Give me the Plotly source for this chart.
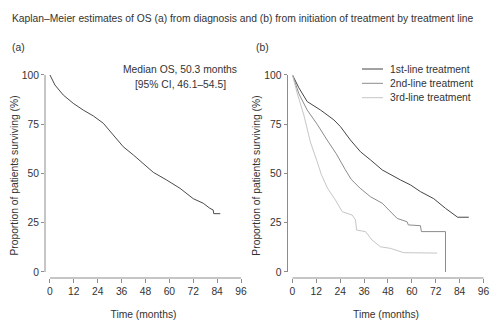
import plotly.graph_objects as go

# ---------------- data ----------------
# Panel (a): overall survival from diagnosis
a_time = [0, 2.5, 6.7, 11.7, 16.7, 21.8, 26.8, 31.8, 36.8, 41.9, 46.9, 51.9,
          58.6, 65.3, 72.0, 77.0, 80.4, 82.0, 82.3, 85.6]
a_surv = [100, 94.9, 89.8, 85.6, 82.2, 79.2, 75.5, 69.5, 63.6, 59.4, 55.0, 50.6,
          46.7, 42.5, 37.2, 34.9, 32.3, 31.5, 29.6, 29.6]

# Panel (b): survival from initiation of treatment by treatment line
l1_time = [0, 3.2, 7.4, 14.1, 20.8, 24.1, 29.1, 34.2, 39.2, 45.1, 54.3, 59.3,
           64.3, 71.0, 76.9, 80.2, 82.8, 83.0, 88.6]
l1_surv = [100, 93.5, 86.5, 82.2, 77.2, 73.8, 67.0, 61.0, 56.9, 51.8, 46.7, 44.2,
           40.8, 37.2, 32.3, 29.8, 28.1, 27.8, 27.8]

l2_time = [0, 3.2, 7.4, 12.4, 17.4, 22.0, 26.5, 29.5, 34.0, 39.2, 45.1, 49.2,
           52.6, 57.6, 58.2, 64.3, 64.8, 76.9, 76.9]
l2_surv = [100, 90.5, 82.2, 75.0, 67.0, 60.0, 52.0, 47.0, 42.5, 38.2, 34.9, 30.6,
           27.2, 25.5, 23.9, 23.5, 20.5, 20.5, 0]

l3_time = [0, 2.3, 5.7, 9.0, 12.4, 14.5, 17.6, 21.6, 25.0, 30.0, 31.7, 32.2,
           36.7, 40.0, 44.2, 49.2, 55.9, 72.7]
l3_surv = [100, 91.0, 79.7, 66.0, 56.0, 49.5, 42.5, 36.5, 30.6, 28.9, 26.4, 21.3,
           20.5, 16.2, 12.8, 12.0, 9.8, 9.6]

series_names = ["1st-line treatment", "2nd-line treatment", "3rd-line treatment"]
x_ticks = [0, 12, 24, 36, 48, 60, 72, 84, 96]
y_ticks = [0, 25, 50, 75, 100]

title_text = ("Kaplan\u2013Meier estimates of OS (a) from diagnosis and (b) "
              "from initiation of treatment by treatment line")
median_text_1 = "Median OS, 50.3 months"
median_text_2 = "[95% CI, 46.1\u201354.5]"

# ---------------- styling ----------------
FONT = "Liberation Sans, Arial, sans-serif"
TXT = "#333333"
AXC = "#8c8c8c"
colors = ["#454545", "#8c8c8c", "#c6c6c6"]
a_color = "#4a4a4a"
FS = 10.3

fig = go.Figure()

fig.add_trace(go.Scatter(x=a_time, y=a_surv, mode="lines",
                         line=dict(color=a_color, width=1),
                         xaxis="x", yaxis="y", showlegend=False,
                         name="Overall"))

for t, s, c, n in zip([l1_time, l2_time, l3_time],
                      [l1_surv, l2_surv, l3_surv], colors, series_names):
    fig.add_trace(go.Scatter(x=t, y=s, mode="lines", name=n,
                             line=dict(color=c, width=1),
                             xaxis="x2", yaxis="y2", showlegend=False))

y_dom = [1 - 278 / 334, 1 - 73 / 334]
x_range = [-2.5, 96.5]
y_range = [-3.05, 101]

axis_common = dict(showgrid=False, zeroline=False, showline=False,
                   ticks="outside", tickcolor=AXC, tickwidth=1,
                   tickfont=dict(family=FONT, size=FS, color=TXT),
                   automargin=False)

xtitle = dict(text="Time (months)", standoff=14,
              font=dict(family=FONT, size=FS, color=TXT))
ytitle = dict(text="Proportion of patients surviving (%)", standoff=1,
              font=dict(family=FONT, size=FS, color=TXT))

fig.update_layout(
    width=500, height=334, autosize=False,
    margin=dict(l=0, r=0, t=0, b=0),
    paper_bgcolor="white", plot_bgcolor="white",
    font=dict(family=FONT, size=FS, color=TXT),
    xaxis=dict(domain=[0.09, 0.484], range=x_range, tickvals=x_ticks,
               ticklen=4, anchor="y", title=xtitle, **axis_common),
    yaxis=dict(domain=y_dom, range=y_range, tickvals=y_ticks,
               ticklen=3, anchor="x", title=ytitle, **axis_common),
    xaxis2=dict(domain=[0.575, 0.969], range=x_range, tickvals=x_ticks,
                ticklen=4, anchor="y2", title=xtitle, **axis_common),
    yaxis2=dict(domain=y_dom, range=y_range, tickvals=y_ticks,
                ticklen=3, anchor="x2", title=ytitle, **axis_common),
)

# R-style detached axis lines
shapes = []
for xr, yr in [("x", "y"), ("x2", "y2")]:
    shapes.append(dict(type="line", xref=xr, yref=yr + " domain",
                       x0=x_ticks[0], x1=x_ticks[-1], y0=0, y1=0,
                       line=dict(color=AXC, width=1)))
    shapes.append(dict(type="line", xref=xr + " domain", yref=yr,
                       x0=0, x1=0, y0=y_ticks[0], y1=y_ticks[-1],
                       line=dict(color=AXC, width=1)))

# manual legend for panel (b)
leg_rows = [69, 83.3, 97.7]
for c, n, ry in zip(colors, series_names, leg_rows):
    yp = 1 - ry / 334
    shapes.append(dict(type="line", xref="paper", yref="paper",
                       x0=362 / 500, x1=383 / 500, y0=yp, y1=yp,
                       line=dict(color=c, width=1)))
fig.update_layout(shapes=shapes)

annotations = [
    dict(text=title_text, x=10 / 500, y=1 - 19 / 334, xref="paper", yref="paper",
         xanchor="left", yanchor="middle", showarrow=False,
         font=dict(family=FONT, size=FS, color=TXT)),
    dict(text="(a)", x=10 / 500, y=1 - 47 / 334, xref="paper", yref="paper",
         xanchor="left", yanchor="middle", showarrow=False,
         font=dict(family=FONT, size=FS, color=TXT)),
    dict(text="(b)", x=254 / 500, y=1 - 47 / 334, xref="paper", yref="paper",
         xanchor="left", yanchor="middle", showarrow=False,
         font=dict(family=FONT, size=FS, color=TXT)),
    dict(text=median_text_1, x=180 / 500, y=1 - 69.3 / 334, xref="paper", yref="paper",
         xanchor="center", yanchor="middle", showarrow=False,
         font=dict(family=FONT, size=FS, color=TXT)),
    dict(text=median_text_2, x=180 / 500, y=1 - 84 / 334, xref="paper", yref="paper",
         xanchor="center", yanchor="middle", showarrow=False,
         font=dict(family=FONT, size=FS, color=TXT)),
]
for n, ry in zip(series_names, leg_rows):
    annotations.append(dict(text=n, x=388 / 500, y=1 - ry / 334,
                            xref="paper", yref="paper",
                            xanchor="left", yanchor="middle", showarrow=False,
                            font=dict(family=FONT, size=FS, color=TXT)))
fig.update_layout(annotations=annotations)

fig.write_html("out.html")
